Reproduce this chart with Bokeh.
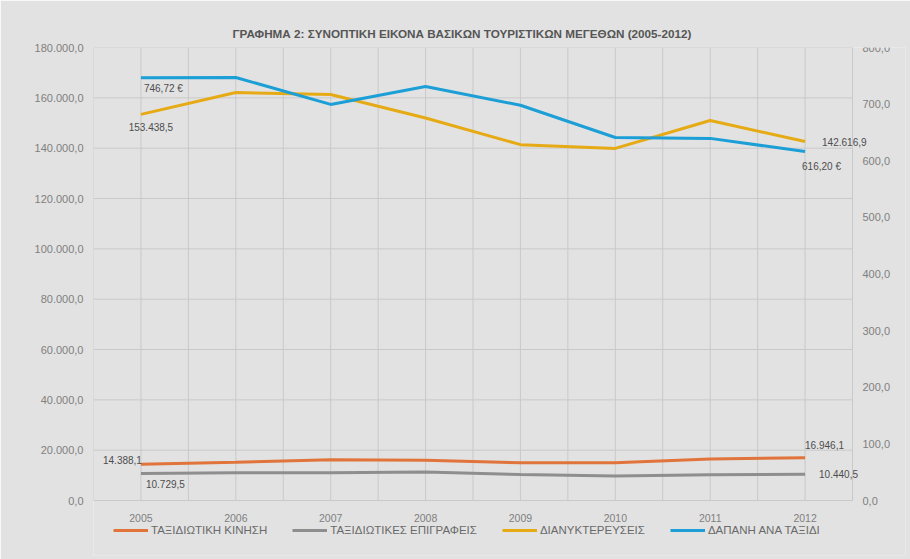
from bokeh.plotting import figure
from bokeh.models import (Range1d, LinearAxis, FixedTicker, Legend, LegendItem,
                          LabelSet, ColumnDataSource)
from bokeh.core.properties import value
from bokeh.embed import file_html
from bokeh.resources import INLINE

# ---- data ----
years = [2005, 2006, 2007, 2008, 2009, 2010, 2011, 2012]
kinisi = [14388.1, 15200, 16200, 16000, 15000, 15000, 16500, 16946.1]
grafeia = [10729.5, 11000, 11000, 11300, 10300, 9700, 10200, 10440.5]
dianyktereyseis = [153438.5, 162100, 161300, 152000, 141400, 139900, 151000, 142616.9]
dapani = [746.72, 747.0, 699.5, 731.0, 698.0, 641.0, 639.5, 616.20]

names = ["ΤΑΞΙΔΙΩΤΙΚΗ ΚΙΝΗΣΗ", "ΤΑΞΙΔΙΩΤΙΚΕΣ ΕΠΙΓΡΑΦΕΙΣ", "ΔΙΑΝΥΚΤΕΡΕΥΣΕΙΣ", "ΔΑΠΑΝΗ ΑΝΑ ΤΑΞΙΔΙ"]
colors = ["#e0743a", "#8e8e8e", "#e6aa14", "#1b9fd6"]

left_ticks = [0, 20000, 40000, 60000, 80000, 100000, 120000, 140000, 160000, 180000]
left_labels = ["0,0", "20.000,0", "40.000,0", "60.000,0", "80.000,0", "100.000,0",
               "120.000,0", "140.000,0", "160.000,0", "180.000,0"]
right_ticks = [0, 100, 200, 300, 400, 500, 600, 700, 800]
right_labels = ["0,0", "100,0", "200,0", "300,0", "400,0", "500,0", "600,0", "700,0", "800,0"]

title = "ΓΡΑΦΗΜΑ 2: ΣΥΝΟΠΤΙΚΗ ΕΙΚΟΝΑ ΒΑΣΙΚΩΝ ΤΟΥΡΙΣΤΙΚΩΝ ΜΕΓΕΘΩΝ (2005-2012)"

def gr(v, d=1):
    s = f"{v:,.{d}f}"
    return s.replace(",", "X").replace(".", ",").replace("X", ".")

# ---- layout (pixels) ----
W, H = 910, 559
FR_L, FR_R, FR_T, FR_B = 93, 905, 47, 555        # drawing frame (extends past plot area)
PA_R, PA_B = 852, 500                             # right / bottom edge of the plot area
X0, X1 = 2004.5, 2012.5
Y1, Y2_1 = 180000, 800
x_end = X0 + (X1 - X0) * (FR_R - FR_L) / (PA_R - FR_L)
y_start = -Y1 * (FR_B - PA_B) / (PA_B - FR_T)
y2_start = -Y2_1 * (FR_B - PA_B) / (PA_B - FR_T)

FONT = "Liberation Sans"
BG = "#e2e2e2"
GRID = "#c9c9c9"
TXT = "#808080"

p = figure(width=W, height=H, output_backend="svg", toolbar_location=None,
           x_range=Range1d(X0, x_end), y_range=Range1d(y_start, Y1),
           min_border_left=FR_L, min_border_right=W - FR_R, min_border_top=FR_T,
           min_border_bottom=H - FR_B,
           background_fill_color=BG, border_fill_color=BG)
p.extra_y_ranges = {"y2": Range1d(y2_start, Y2_1)}
p.xgrid.visible = False
p.ygrid.visible = False
p.outline_line_color = None

p.title.text = title
p.title.align = "left"
p.title.offset = 139
p.title.text_font = FONT
p.title.text_font_size = "11.7px"
p.title.text_font_style = "bold"
p.title.text_color = "#555555"
p.title.standoff = 16

# axes
p.yaxis.ticker = FixedTicker(ticks=left_ticks)
p.yaxis.major_label_overrides = {t: l for t, l in zip(left_ticks, left_labels)}
p.xaxis.ticker = FixedTicker(ticks=years)
p.xaxis.major_label_overrides = {y: str(y) for y in years}
p.xaxis.fixed_location = 0

ax2 = LinearAxis(y_range_name="y2", ticker=FixedTicker(ticks=right_ticks),
                 major_label_overrides={t: l for t, l in zip(right_ticks, right_labels)},
                 fixed_location=X1)
p.add_layout(ax2, "right")

for ax in [p.xaxis[0], p.yaxis[0], ax2]:
    ax.axis_line_color = None
    ax.major_tick_line_color = None
    ax.minor_tick_line_color = None
    ax.major_tick_out = 0
    ax.major_tick_in = 0
    ax.major_label_text_color = TXT
    ax.major_label_text_font = FONT
    ax.major_label_text_font_size = "11px"
    ax.major_label_standoff = 10
p.xaxis.major_label_text_font_size = "10.5px"
p.xaxis.major_label_standoff = 13

# gridlines of the plot area, from the tick arrays
vgrid = [X0 + 0.5 * i for i in range(int((X1 - X0) * 2) + 1)]
p.segment(x0=vgrid, y0=[0] * len(vgrid), x1=vgrid, y1=[Y1] * len(vgrid),
          line_color=GRID, line_width=1)
p.segment(x0=[X0] * len(left_ticks), y0=left_ticks, x1=[X1] * len(left_ticks), y1=left_ticks,
          line_color=GRID, line_width=1)

# lines
r1 = p.line(years, kinisi, line_color=colors[0], line_width=3)
r2 = p.line(years, grafeia, line_color=colors[1], line_width=3)
r3 = p.line(years, dianyktereyseis, line_color=colors[2], line_width=3)
r4 = p.line(years, dapani, line_color=colors[3], line_width=3, y_range_name="y2")

# data labels
lab_kw = dict(text_font=value(FONT), text_font_size=value("10px"), text_color=value("#4d4d4d"),
              text_baseline=value("middle"))

def add_label(x, y, txt, align, dx, dy, rng="default"):
    src = ColumnDataSource(dict(x=[x], y=[y], t=[txt]))
    p.add_layout(LabelSet(x="x", y="y", text="t", source=src, y_range_name=rng,
                          text_align=value(align), x_offset=dx, y_offset=dy, **lab_kw))

add_label(years[0], dianyktereyseis[0], gr(dianyktereyseis[0]), "center", 10, -13)
add_label(years[-1], dianyktereyseis[-1], gr(dianyktereyseis[-1]), "left", 17, 0)
add_label(years[0], dapani[0], gr(dapani[0], 2) + " €", "left", 3, -11, "y2")
add_label(years[-1], dapani[-1], gr(dapani[-1], 2) + " €", "left", -3, -15, "y2")
add_label(years[0], kinisi[0], gr(kinisi[0]), "right", 1, 4)
add_label(years[-1], kinisi[-1], gr(kinisi[-1]), "left", 0, 13)
add_label(years[0], grafeia[0], gr(grafeia[0]), "left", 5, -11)
add_label(years[-1], grafeia[-1], gr(grafeia[-1]), "left", 14, 0)

legend = Legend(items=[LegendItem(label=n, renderers=[r]) for n, r in zip(names, [r1, r2, r3, r4])],
                orientation="horizontal", location=(20, 19),
                background_fill_alpha=0, border_line_color=None,
                label_text_font=FONT, label_text_font_size="11.5px", label_text_color="#6a6a6a",
                glyph_width=35, glyph_height=8, spacing=25, padding=0, margin=0,
                label_standoff=3, label_height=10)
p.add_layout(legend, "center")

open("out.html", "w").write(file_html(p, INLINE))
